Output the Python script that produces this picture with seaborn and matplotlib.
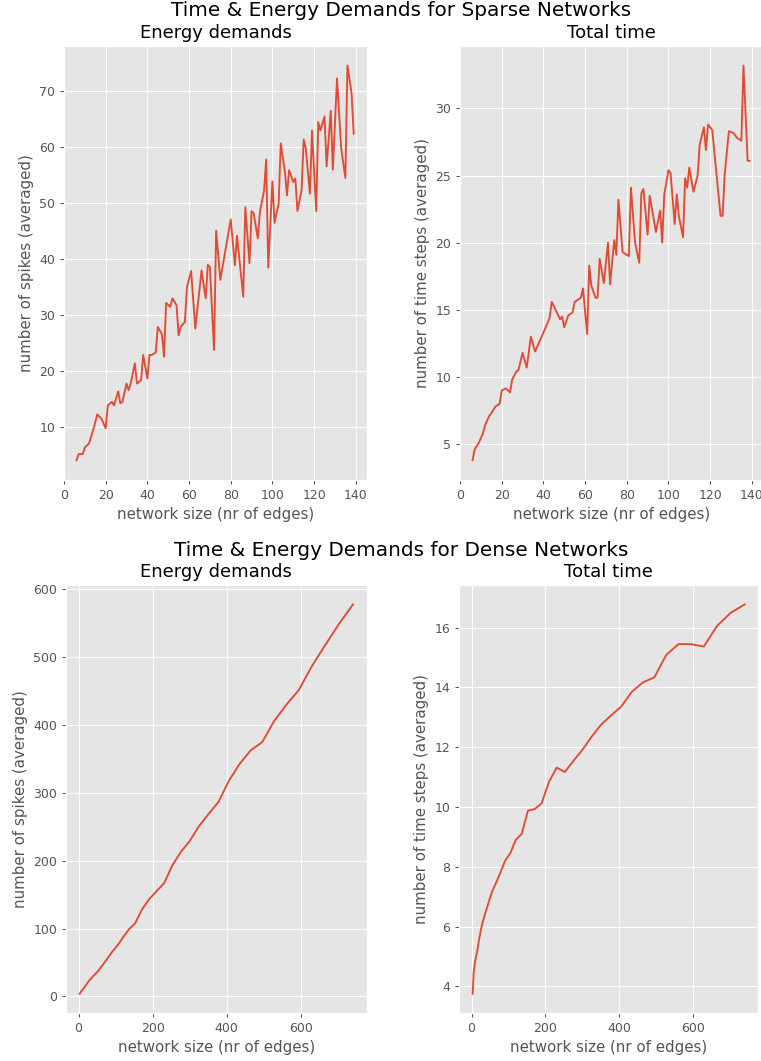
import matplotlib
matplotlib.use("Agg")
import matplotlib.pyplot as plt
import seaborn as sns

# sparse networks: energy (spikes)
sparse_energy_edges = [6, 7, 9, 10, 12, 14, 16, 18, 20, 21, 23, 24, 26, 27, 28, 30, 31, 32,
                       34, 35, 37, 38, 40, 41, 42, 44, 45, 47, 48, 49, 51, 52, 54, 55, 56,
                       58, 59, 61, 63, 66, 68, 69, 70, 72, 73, 75, 80, 82, 83, 86, 87, 89,
                       90, 91, 93, 94, 96, 97, 98, 100, 101, 103, 104, 106, 107, 108, 110,
                       111, 112, 114, 115, 116, 118, 119, 121, 122, 123, 125, 126, 128,
                       129, 131, 133, 135, 136, 138, 139]
sparse_spikes = [4.1, 5.2, 5.2, 6.4, 7.1, 9.5, 12.3, 11.5, 9.8, 13.9, 14.5, 13.9, 16.4,
                 14.3, 14.5, 17.8, 16.6, 17.8, 21.4, 17.8, 18.4, 22.9, 18.7, 22.9, 22.9,
                 23.3, 27.9, 26.6, 22.6, 32.2, 31.5, 33.0, 31.8, 26.4, 27.9, 28.8, 35.0,
                 37.9, 27.6, 38.0, 33.0, 39.0, 38.6, 23.8, 45.1, 36.3, 47.1, 38.9, 44.2,
                 33.3, 49.3, 39.3, 48.6, 48.2, 43.7, 48.4, 52.3, 57.8, 38.5, 53.9, 46.5,
                 49.9, 60.7, 55.6, 51.4, 55.9, 53.8, 54.4, 48.6, 52.3, 61.4, 59.8, 51.7,
                 63.0, 48.6, 64.5, 63.0, 65.5, 56.6, 66.5, 56.0, 72.3, 59.8, 54.5, 74.6,
                 69.6, 62.4]

# sparse networks: time steps
sparse_time_edges = [6, 7, 9, 11, 12, 14, 15, 17, 19, 20, 22, 24, 25, 27, 28, 30, 32, 34,
                     36, 40, 43, 44, 48, 49, 50, 52, 54, 55, 58, 59, 61, 62, 63, 65, 66,
                     67, 69, 71, 72, 74, 75, 76, 78, 81, 82, 84, 86, 87, 88, 90, 91, 94,
                     96, 97, 98, 100, 101, 103, 104, 105, 107, 108, 109, 110, 112, 114,
                     115, 117, 118, 119, 121, 125, 126, 127, 129, 131, 133, 135, 136,
                     138, 139]
sparse_steps = [3.8, 4.6, 5.1, 5.8, 6.4, 7.1, 7.3, 7.8, 8.0, 9.0, 9.15, 8.85, 9.8, 10.4,
                10.5, 11.8, 10.7, 13.0, 11.9, 13.3, 14.4, 15.6, 14.3, 14.5, 13.7, 14.6,
                14.8, 15.6, 15.9, 16.6, 13.2, 18.3, 16.8, 15.9, 15.9, 18.8, 17.0, 20.0,
                16.9, 20.2, 19.1, 23.2, 19.3, 19.0, 24.1, 20.0, 18.5, 23.7, 24.0, 20.6,
                23.5, 20.8, 22.4, 20.0, 23.6, 25.4, 25.2, 21.4, 23.6, 22.0, 20.4, 24.8,
                24.1, 25.6, 23.8, 25.0, 27.3, 28.6, 26.9, 28.8, 28.4, 22.0, 22.0, 25.1,
                28.3, 28.2, 27.8, 27.6, 33.2, 26.1, 26.1]

# dense networks (complete graphs)
dense_edges = [3, 6, 10, 15, 21, 28, 36, 45, 55, 66, 78, 91, 105, 120, 136, 153, 171,
               190, 210, 231, 253, 276, 300, 325, 351, 378, 406, 435, 465, 496, 528,
               561, 595, 630, 666, 703, 741]
dense_spikes = [4, 6.5, 9.5, 13, 17.5, 23, 28, 33, 39, 47, 56, 66, 75, 87, 99, 108, 128,
                143, 155, 167, 193, 213, 229, 251, 269, 287, 318, 343, 363, 375, 406,
                430, 452, 487, 518, 549, 578]
dense_steps = [3.75, 4.5, 4.85, 5.15, 5.6, 6.05, 6.4, 6.75, 7.15, 7.45, 7.8, 8.2, 8.45,
               8.9, 9.1, 9.88, 9.93, 10.12, 10.84, 11.32, 11.17, 11.54, 11.9, 12.34,
               12.75, 13.06, 13.36, 13.86, 14.17, 14.34, 15.09, 15.45, 15.45, 15.37,
               16.06, 16.5, 16.78]

plt.style.use("ggplot")
line_color = "#E24A33"
xlab = "network size (nr of edges)"

fig = plt.figure(figsize=(761 / 90, 1061 / 90), dpi=90)

ax1 = fig.add_axes([0.0841, 0.5476, 0.3982, 0.4093])
ax2 = fig.add_axes([0.6045, 0.5476, 0.3982, 0.4093])
ax3 = fig.add_axes([0.0867, 0.0450, 0.3951, 0.4037])
ax4 = fig.add_axes([0.6032, 0.0450, 0.3933, 0.4037])

sns.lineplot(x=sparse_energy_edges, y=sparse_spikes, ax=ax1, color=line_color)
ax1.set(title="Energy demands", xlabel=xlab, ylabel="number of spikes (averaged)")
ax1.set_xlim(0, 145.4)

sns.lineplot(x=sparse_time_edges, y=sparse_steps, ax=ax2, color=line_color)
ax2.set(title="Total time", xlabel=xlab, ylabel="number of time steps (averaged)")
ax2.set_xlim(0, 145.4)

sns.lineplot(x=dense_edges, y=dense_spikes, ax=ax3, color=line_color)
ax3.set(title="Energy demands", xlabel=xlab, ylabel="number of spikes (averaged)")

sns.lineplot(x=dense_edges, y=dense_steps, ax=ax4, color=line_color)
ax4.set(title="Total time", xlabel=xlab, ylabel="number of time steps (averaged)")

fig.text(0.527, 1 - 10.5 / 1061, "Time & Energy Demands for Sparse Networks",
         ha="center", va="center", fontsize=16)
fig.text(0.527, 1 - 550 / 1061, "Time & Energy Demands for Dense Networks",
         ha="center", va="center", fontsize=16)

fig.savefig("out.png", dpi=90)
